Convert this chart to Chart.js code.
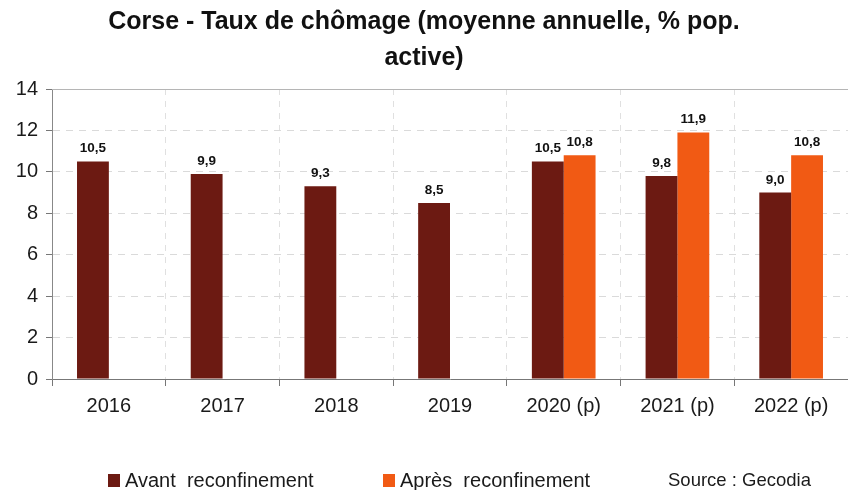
<!DOCTYPE html>
<html>
<head>
<meta charset="utf-8">
<script src="https://cdn.jsdelivr.net/npm/chart.js@4.4.7/dist/chart.umd.min.js"></script>
<style>
  html, body { margin: 0; padding: 0; background: #fff; }
  #wrap { width: 848px; height: 490px; }
</style>
</head>
<body>
<div id="wrap"><canvas id="chart" width="848" height="490"></canvas></div>
<script>
const years = ["2016", "2017", "2018", "2019", "2020 (p)", "2021 (p)", "2022 (p)"]
const avant = [10.5, 9.9, 9.3, 8.5, 10.5, 9.8, 9.0]
const apres = [null, null, null, null, 10.8, 11.9, 10.8]
const yTicks = [0, 2, 4, 6, 8, 10, 12, 14]

const DARK = "#6c1a12"
const ORANGE = "#f15a14"
const FONT = "'Liberation Sans', Arial, sans-serif"

const fmt = v => v.toFixed(1).replace(".", ",")

// value labels above the bars
const valueLabels = {
  id: "valueLabels",
  afterDatasetsDraw(chart) {
    const ctx = chart.ctx
    ctx.save()
    ctx.font = "bold 13.5px " + FONT
    ctx.fillStyle = "#111"
    ctx.textAlign = "center"
    ctx.textBaseline = "bottom"
    chart.data.datasets.forEach((ds, i) => {
      chart.getDatasetMeta(i).data.forEach((bar, j) => {
        const v = ds.data[j]
        if (v == null) return
        ctx.fillText(fmt(v), bar.x, bar.y - 6)
      })
    })
    ctx.restore()
  }
}

// top frame line + legend + source at the bottom
const extras = {
  id: "extras",
  beforeDatasetsDraw(chart) {
    const { ctx, chartArea } = chart
    ctx.save()
    ctx.strokeStyle = "#b5b5b5"
    ctx.lineWidth = 1
    ctx.beginPath()
    ctx.moveTo(chartArea.left, chartArea.top + 0.5)
    ctx.lineTo(chartArea.right, chartArea.top + 0.5)
    ctx.stroke()
    ctx.restore()
  },
  afterDraw(chart) {
    const ctx = chart.ctx
    ctx.save()
    ctx.textBaseline = "middle"
    const items = [
      { x: 108, color: DARK, text: chart.data.datasets[0].label },
      { x: 383, color: ORANGE, text: chart.data.datasets[1].label }
    ]
    ctx.font = "20px " + FONT
    items.forEach(it => {
      ctx.fillStyle = it.color
      ctx.fillRect(it.x, 474, 12, 13)
      ctx.fillStyle = "#1a1a1a"
      ctx.fillText(it.text, it.x + 17, 481)
    })
    ctx.font = "18.5px " + FONT
    ctx.fillText("Source : Gecodia", 668, 481)
    ctx.restore()
  }
}

new Chart(document.getElementById("chart"), {
  type: "bar",
  data: {
    labels: years,
    datasets: [
      { label: "Avant  reconfinement", data: avant, backgroundColor: DARK },
      { label: "Après  reconfinement", data: apres, backgroundColor: ORANGE }
    ]
  },
  options: {
    responsive: false,
    animation: false,
    events: [],
    layout: { padding: { left: 0, right: 0, top: 0, bottom: 0 } },
    datasets: { bar: { barPercentage: 1, categoryPercentage: 0.56 } },
    plugins: {
      legend: { display: false },
      tooltip: { enabled: false },
      title: {
        display: true,
        text: ["Corse - Taux de chômage (moyenne annuelle, % pop.", "active)"],
        color: "#111",
        font: { family: FONT, size: 25, weight: "bold", lineHeight: 1.44 },
        padding: { top: 4, bottom: 13 }
      }
    },
    scales: {
      x: {
        grid: {
          color: "#e0e0e0",
          offset: true,
          drawTicks: true,
          tickLength: 7,
          tickColor: "#777",
          tickBorderDash: []
        },
        border: { color: "#777", width: 1, dash: [6, 6] },
        ticks: { color: "#1a1a1a", font: { family: FONT, size: 20 }, padding: 8 },
        afterFit(scale) { scale.height = 111 }
      },
      y: {
        min: 0,
        max: 14,
        afterBuildTicks(scale) { scale.ticks = yTicks.map(v => ({ value: v })) },
        grid: {
          color: "#dadada",
          tickLength: 6,
          tickColor: "#777",
          tickBorderDash: []
        },
        border: { color: "#888", width: 1, dash: [7, 6] },
        ticks: { color: "#1a1a1a", font: { family: FONT, size: 20 }, padding: 8 },
        afterFit(scale) { scale.width = 52 }
      }
    }
  },
  plugins: [valueLabels, extras]
})
</script>
</body>
</html>
